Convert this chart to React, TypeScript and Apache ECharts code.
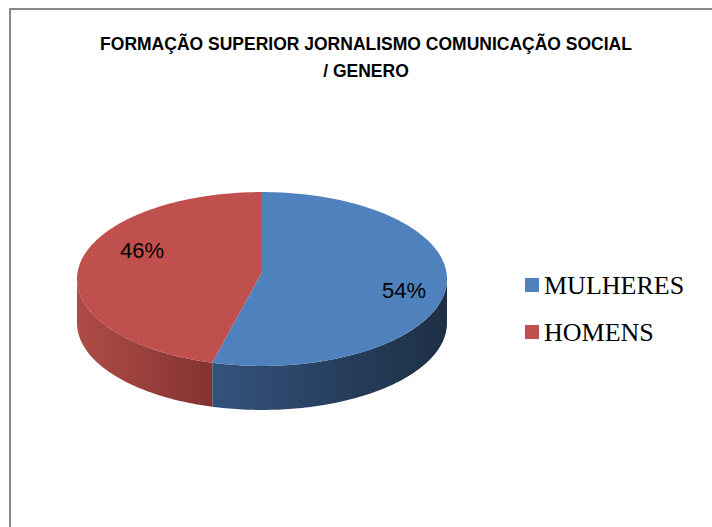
import React, { useEffect, useRef } from "react";
import * as echarts from "echarts";

const categories = ["MULHERES", "HOMENS"];
const values = [54, 46];
const labels = ["54%", "46%"];
const topColors = ["#4F81BD", "#C0504D"];
const wallColors = [
  ["#34537C", "#27405F", "#1E2F46"],
  ["#AE4B46", "#9A403C", "#833230"],
];
const titleText = "FORMAÇÃO SUPERIOR JORNALISMO COMUNICAÇÃO SOCIAL\n/ GENERO";

// geometry (pixels)
const CX = 262;
const CY = 272;
const RA = 184.4;
const RB = 86.4;
const PERSP = 0.0805;
const DEPTH = 44;
const labelPlace = [
  { k: 0.77, dy: 10 },
  { k: 0.66, dy: -14 },
];

function proj(thetaDeg: number, h: number, k = 1): [number, number] {
  const t = (thetaDeg * Math.PI) / 180;
  const u = Math.sin(t) * k;
  const v = Math.cos(t) * k;
  const w = 1 + PERSP * v;
  return [CX + (RA * u) / w, CY - (RB * v) / w + h];
}

const total = values.reduce((a, b) => a + b, 0);
const starts: number[] = [];
{
  let acc = 0;
  for (const v of values) {
    starts.push((acc / total) * 360);
    acc += v;
  }
}
const thR = 90 + (Math.asin(PERSP) * 180) / Math.PI;
const thL = 360 - thR;

function arc(a: number, b: number, h: number): number[][] {
  const pts: number[][] = [];
  const n = Math.max(2, Math.ceil(Math.abs(b - a)));
  for (let i = 0; i <= n; i++) pts.push(proj(a + ((b - a) * i) / n, h));
  return pts;
}

export default function App() {
  const ref = useRef<HTMLDivElement>(null);
  useEffect(() => {
    if (!ref.current) return;
    const chart = echarts.init(ref.current, null, { renderer: "svg" });
    const series = categories.map((name, idx) => ({
      type: "custom",
      name,
      coordinateSystem: "none",
      itemStyle: { color: topColors[idx] },
      data: [[values[idx]]],
      renderItem: (params: any, api: any) => {
        const val = api.value(0);
        const a = starts[idx];
        const b = a + (val / total) * 360;
        const children: any[] = [];
        const wa = Math.max(a, thR);
        const wb = Math.min(b, thL);
        if (wb > wa) {
          const top = arc(wa, wb, 0);
          const bot = arc(wa, wb, DEPTH).reverse();
          const wc = wallColors[idx];
          children.push({
            type: "polygon",
            shape: { points: top.concat(bot) },
            style: {
              fill: {
                type: "linear",
                x: 0,
                y: 0,
                x2: 1,
                y2: 0,
                colorStops: [
                  { offset: 0, color: wc[0] },
                  { offset: 0.5, color: wc[1] },
                  { offset: 1, color: wc[2] },
                ],
              },
            },
          });
        }
        const face = [proj(0, 0, 0) as number[]].concat(arc(a, b, 0));
        children.push({
          type: "polygon",
          shape: { points: face },
          style: { fill: topColors[idx] },
        });
        const mid = (a + b) / 2;
        const lp = proj(mid, 0, labelPlace[idx].k);
        children.push({
          type: "text",
          x: lp[0],
          y: lp[1] + labelPlace[idx].dy,
          style: {
            text: labels[idx],
            fill: "#000000",
            fontSize: 22,
            fontFamily: "'Liberation Sans', Arial, sans-serif",
            align: "center",
            verticalAlign: "middle",
          },
        });
        return { type: "group", children };
      },
    }));
    chart.setOption({
      animation: false,
      backgroundColor: "#ffffff",
      title: {
        text: titleText,
        left: 366,
        top: 30,
        padding: 0,
        textAlign: "center",
        textStyle: {
          fontFamily: "'Liberation Sans', Arial, sans-serif",
          fontWeight: "bold",
          fontSize: 17.5,
          lineHeight: 27,
          color: "#000000",
        },
      },
      legend: {
        orient: "vertical",
        left: 525,
        top: 272,
        padding: 0,
        itemWidth: 14,
        itemHeight: 14,
        itemGap: 21,
        icon: "rect",
        data: categories,
        textStyle: {
          fontFamily: "'Liberation Serif', 'Times New Roman', serif",
          fontSize: 26,
          lineHeight: 26,
          color: "#000000",
        },
      },
      graphic: [
        {
          type: "rect",
          shape: { x: 10, y: 9, width: 800, height: 600 },
          style: { fill: "none", stroke: "#898989", lineWidth: 2 },
          silent: true,
        },
      ],
      series,
    });
    return () => chart.dispose();
  }, []);
  return (
    <div
      ref={ref}
      style={{ position: "fixed", left: 0, top: 0, width: 712, height: 527 }}
    />
  );
}
